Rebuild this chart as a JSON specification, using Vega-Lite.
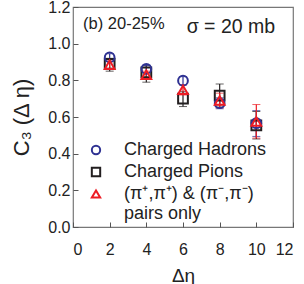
{
  "$schema": "https://vega.github.io/schema/vega-lite/v6.json",
  "width": 220,
  "height": 220,
  "autosize": "none",
  "padding": {"left": 73, "top": 7, "right": 11, "bottom": 57},
  "background": "white",
  "config": {
    "font": "Liberation Sans",
    "view": {"stroke": "#777", "strokeWidth": 1.2},
    "axis": {"grid": false, "domain": false, "labelColor": "#222", "titleColor": "#222", "tickColor": "#555", "labelFontSize": 16, "titleFontWeight": "normal", "labelOverlap": false},
    "axisX": {"labelOverlap": false},
    "axisY": {"labelOverlap": false}
  },
  "datasets": {
    "pts": [
      {"series": "Charged Pions", "x": 2, "y": 0.89, "lo": 0.85, "hi": 0.92},
      {"series": "Charged Pions", "x": 4, "y": 0.843, "lo": 0.79, "hi": 0.88},
      {"series": "Charged Pions", "x": 6, "y": 0.70, "lo": 0.657, "hi": 0.74},
      {"series": "Charged Pions", "x": 8, "y": 0.717, "lo": 0.66, "hi": 0.78},
      {"series": "Charged Pions", "x": 10, "y": 0.554, "lo": 0.48, "hi": 0.63},
      {"series": "Charged Hadrons", "x": 2, "y": 0.925, "lo": 0.905, "hi": 0.945},
      {"series": "Charged Hadrons", "x": 4, "y": 0.862, "lo": 0.842, "hi": 0.882},
      {"series": "Charged Hadrons", "x": 6, "y": 0.798, "lo": 0.775, "hi": 0.82},
      {"series": "Charged Hadrons", "x": 8, "y": 0.675, "lo": 0.645, "hi": 0.705},
      {"series": "Charged Hadrons", "x": 10, "y": 0.566, "lo": 0.494, "hi": 0.635},
      {"series": "(π⁺,π⁺) & (π⁻,π⁻)", "x": 2, "y": 0.885, "lo": 0.865, "hi": 0.905},
      {"series": "(π⁺,π⁺) & (π⁻,π⁻)", "x": 4, "y": 0.83, "lo": 0.81, "hi": 0.85},
      {"series": "(π⁺,π⁺) & (π⁻,π⁻)", "x": 6, "y": 0.748, "lo": 0.72, "hi": 0.775},
      {"series": "(π⁺,π⁺) & (π⁻,π⁻)", "x": 8, "y": 0.69, "lo": 0.65, "hi": 0.73},
      {"series": "(π⁺,π⁺) & (π⁻,π⁻)", "x": 10, "y": 0.575, "lo": 0.485, "hi": 0.668}
    ],
    "noteA": [{"x": 0.55, "y": 1.078, "text": "(b) 20-25%"}],
    "noteB": [{"x": 6.2, "y": 1.059, "text": "σ = 20 mb"}]
  },
  "layer": [
    {
      "data": {"name": "pts"},
      "transform": [{"filter": "datum.series == 'Charged Pions'"}],
      "mark": {"type": "errorbar", "color": "#231f20", "ticks": {"size": 8}, "rule": {"strokeWidth": 1.2}},
      "encoding": {
        "x": {"field": "x", "type": "quantitative", "scale": {"domain": [0, 12]}, "axis": {"values": [0,2,4,6,8,10,12], "labelOverlap": false, "tickSize": -5, "labelPadding": 19, "title": "Δη", "titleFontSize": 19, "titlePadding": 9}},
        "y": {"field": "lo", "type": "quantitative", "scale": {"domain": [0, 1.2]}, "axis": {"values": [0,0.2,0.4,0.6,0.8,1.0,1.2], "labelOverlap": false, "format": ".1f", "tickSize": -5, "labelPadding": 8, "title": "C₃ (Δ η)", "titleFontSize": 22, "titlePadding": 14}},
        "y2": {"field": "hi"}
      }
    },
    {
      "data": {"name": "pts"},
      "transform": [{"filter": "datum.series == 'Charged Hadrons'"}],
      "mark": {"type": "errorbar", "color": "#2e3192", "ticks": {"size": 8}, "rule": {"strokeWidth": 1.2}},
      "encoding": {
        "x": {"field": "x", "type": "quantitative", "scale": {"domain": [0, 12]}, "axis": {"values": [0,2,4,6,8,10,12], "labelOverlap": false, "tickSize": -5, "labelPadding": 19, "title": "Δη", "titleFontSize": 19, "titlePadding": 9}},
        "y": {"field": "lo", "type": "quantitative", "scale": {"domain": [0, 1.2]}, "axis": {"values": [0,0.2,0.4,0.6,0.8,1.0,1.2], "labelOverlap": false, "format": ".1f", "tickSize": -5, "labelPadding": 8, "title": "C₃ (Δ η)", "titleFontSize": 22, "titlePadding": 14}},
        "y2": {"field": "hi"}
      }
    },
    {
      "data": {"name": "pts"},
      "transform": [{"filter": "datum.series == '(π⁺,π⁺) & (π⁻,π⁻)'"}],
      "mark": {"type": "errorbar", "color": "#ed1c24", "ticks": {"size": 8}, "rule": {"strokeWidth": 1.2}},
      "encoding": {
        "x": {"field": "x", "type": "quantitative", "scale": {"domain": [0, 12]}, "axis": {"values": [0,2,4,6,8,10,12], "labelOverlap": false, "tickSize": -5, "labelPadding": 19, "title": "Δη", "titleFontSize": 19, "titlePadding": 9}},
        "y": {"field": "lo", "type": "quantitative", "scale": {"domain": [0, 1.2]}, "axis": {"values": [0,0.2,0.4,0.6,0.8,1.0,1.2], "labelOverlap": false, "format": ".1f", "tickSize": -5, "labelPadding": 8, "title": "C₃ (Δ η)", "titleFontSize": 22, "titlePadding": 14}},
        "y2": {"field": "hi"}
      }
    },
    {
      "data": {"name": "pts"},
      "mark": {"type": "point", "filled": false, "strokeWidth": 2, "size": 95, "opacity": 1},
      "encoding": {
        "x": {"field": "x", "type": "quantitative", "scale": {"domain": [0, 12]}, "axis": {"values": [0,2,4,6,8,10,12], "labelOverlap": false, "tickSize": -5, "labelPadding": 19, "title": "Δη", "titleFontSize": 19, "titlePadding": 9}},
        "y": {"field": "y", "type": "quantitative", "scale": {"domain": [0, 1.2]}, "axis": {"values": [0,0.2,0.4,0.6,0.8,1.0,1.2], "labelOverlap": false, "format": ".1f", "tickSize": -5, "labelPadding": 8, "title": "C₃ (Δ η)", "titleFontSize": 22, "titlePadding": 14}},
        "color": {"field": "series", "type": "nominal",
          "scale": {"domain": ["Charged Hadrons", "Charged Pions", "(π⁺,π⁺) & (π⁻,π⁻)"], "range": ["#2e3192", "#231f20", "#ed1c24"]},
          "legend": {"orient": "none", "legendX": 14, "legendY": 134, "title": null, "padding": 0, "labelFontSize": 18, "labelColor": "#222", "labelOffset": 19, "symbolSize": 70, "symbolStrokeWidth": 2, "rowPadding": 4,
            "labelExpr": "datum.label == 'Charged Hadrons' || datum.label == 'Charged Pions' ? datum.label : [datum.label, 'pairs only']"}},
        "shape": {"field": "series", "type": "nominal",
          "scale": {"domain": ["Charged Hadrons", "Charged Pions", "(π⁺,π⁺) & (π⁻,π⁻)"], "range": ["circle", "square", "triangle-up"]},
          "legend": {"orient": "none", "legendX": 14, "legendY": 134, "title": null, "padding": 0, "labelFontSize": 18, "labelColor": "#222", "labelOffset": 19, "symbolSize": 70, "symbolStrokeWidth": 2, "rowPadding": 4,
            "labelExpr": "datum.label == 'Charged Hadrons' || datum.label == 'Charged Pions' ? datum.label : [datum.label, 'pairs only']"}}
      }
    },
    {
      "data": {"name": "noteA"},
      "mark": {"type": "text", "align": "left", "baseline": "alphabetic", "color": "#222", "fontSize": 16.5},
      "encoding": {
        "x": {"field": "x", "type": "quantitative", "scale": {"domain": [0, 12]}, "axis": {"values": [0,2,4,6,8,10,12], "labelOverlap": false, "tickSize": -5, "labelPadding": 19, "title": "Δη", "titleFontSize": 19, "titlePadding": 9}},
        "y": {"field": "y", "type": "quantitative", "scale": {"domain": [0, 1.2]}, "axis": {"values": [0,0.2,0.4,0.6,0.8,1.0,1.2], "labelOverlap": false, "format": ".1f", "tickSize": -5, "labelPadding": 8, "title": "C₃ (Δ η)", "titleFontSize": 22, "titlePadding": 14}},
        "text": {"field": "text"}
      }
    },
    {
      "data": {"name": "noteB"},
      "mark": {"type": "text", "align": "left", "baseline": "alphabetic", "color": "#222", "fontSize": 19.5},
      "encoding": {
        "x": {"field": "x", "type": "quantitative", "scale": {"domain": [0, 12]}, "axis": {"values": [0,2,4,6,8,10,12], "labelOverlap": false, "tickSize": -5, "labelPadding": 19, "title": "Δη", "titleFontSize": 19, "titlePadding": 9}},
        "y": {"field": "y", "type": "quantitative", "scale": {"domain": [0, 1.2]}, "axis": {"values": [0,0.2,0.4,0.6,0.8,1.0,1.2], "labelOverlap": false, "format": ".1f", "tickSize": -5, "labelPadding": 8, "title": "C₃ (Δ η)", "titleFontSize": 22, "titlePadding": 14}},
        "text": {"field": "text"}
      }
    }
  ]
}
